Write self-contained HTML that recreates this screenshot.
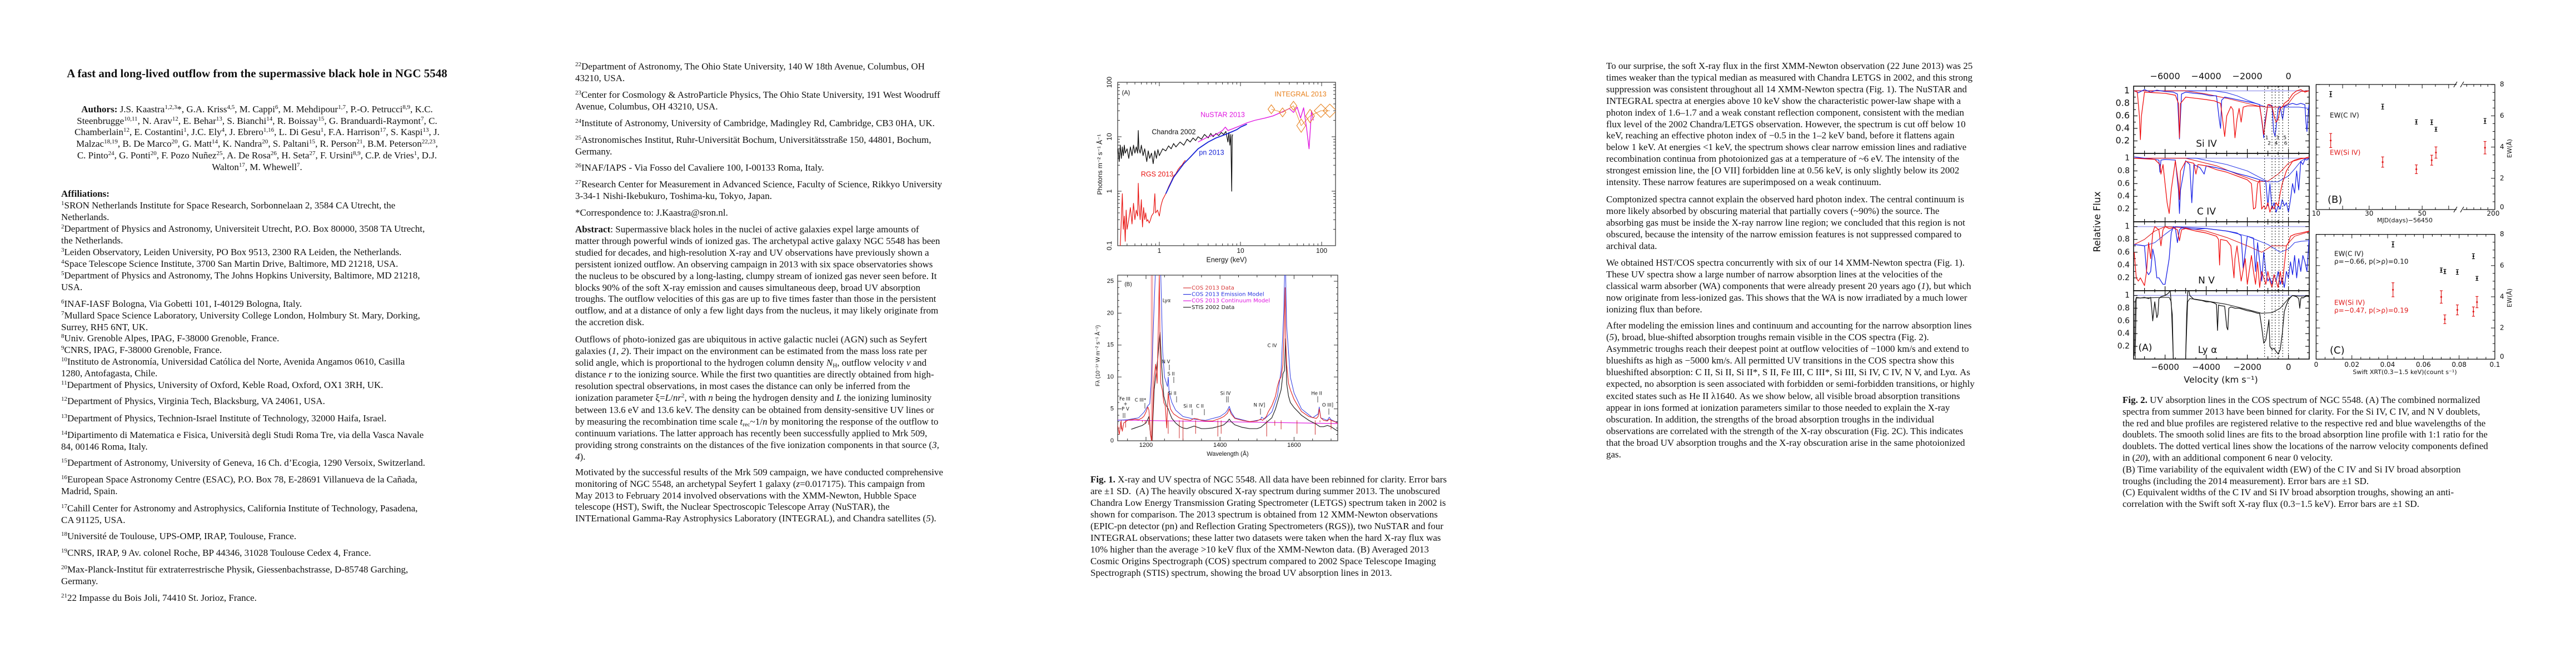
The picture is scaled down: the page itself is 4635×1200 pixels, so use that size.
<!DOCTYPE html>
<html><head><meta charset="utf-8">
<style>
html,body{margin:0;padding:0;background:#fff;}
#page{position:relative;width:4635px;height:1200px;overflow:hidden;background:#fff;font-family:"Liberation Serif",serif;color:#111;}
.t{position:absolute;white-space:nowrap;font-size:17px;line-height:21px;}
.t sup{font-size:11px;line-height:0;vertical-align:6px;}
.t sub{font-size:11px;line-height:0;vertical-align:-3px;}
svg{position:absolute;left:0;top:0;}
</style></head><body>
<div id="page">

<!-- PAGE 1 -->
<div class="t" style="left:110px;width:705px;top:119px;text-align:center;font-weight:bold;font-size:21px;line-height:26px;">A fast and long-lived outflow from the supermassive black hole in NGC 5548</div>
<div class="t" style="left:110px;width:705px;top:187px;text-align:center;line-height:20.7px;"><b>Authors:</b> J.S. Kaastra<sup>1,2,3</sup>*, G.A. Kriss<sup>4,5</sup>, M. Cappi<sup>6</sup>, M. Mehdipour<sup>1,7</sup>, P.-O. Petrucci<sup>8,9</sup>, K.C.<br>Steenbrugge<sup>10,11</sup>, N. Arav<sup>12</sup>, E. Behar<sup>13</sup>, S. Bianchi<sup>14</sup>, R. Boissay<sup>15</sup>, G. Branduardi-Raymont<sup>7</sup>, C.<br>Chamberlain<sup>12</sup>, E. Costantini<sup>1</sup>, J.C. Ely<sup>4</sup>, J. Ebrero<sup>1,16</sup>, L. Di Gesu<sup>1</sup>, F.A. Harrison<sup>17</sup>, S. Kaspi<sup>13</sup>, J.<br>Malzac<sup>18,19</sup>, B. De Marco<sup>20</sup>, G. Matt<sup>14</sup>, K. Nandra<sup>20</sup>, S. Paltani<sup>15</sup>, R. Person<sup>21</sup>, B.M. Peterson<sup>22,23</sup>,<br>C. Pinto<sup>24</sup>, G. Ponti<sup>20</sup>, F. Pozo Nuñez<sup>25</sup>, A. De Rosa<sup>26</sup>, H. Seta<sup>27</sup>, F. Ursini<sup>8,9</sup>, C.P. de Vries<sup>1</sup>, D.J.<br>Walton<sup>17</sup>, M. Whewell<sup>7</sup>.</div>
<div class="t" style="left:110px;top:338px;font-weight:bold;">Affiliations:</div>
<div class="t" style="left:110px;top:359px;"><sup>1</sup>SRON Netherlands Institute for Space Research, Sorbonnelaan 2, 3584 CA Utrecht, the<br>Netherlands.</div>
<div class="t" style="left:110px;top:401px;"><sup>2</sup>Department of Physics and Astronomy, Universiteit Utrecht, P.O. Box 80000, 3508 TA Utrecht,<br>the Netherlands.</div>
<div class="t" style="left:110px;top:443px;"><sup>3</sup>Leiden Observatory, Leiden University, PO Box 9513, 2300 RA Leiden, the Netherlands.</div>
<div class="t" style="left:110px;top:464px;"><sup>4</sup>Space Telescope Science Institute, 3700 San Martin Drive, Baltimore, MD 21218, USA.</div>
<div class="t" style="left:110px;top:485px;"><sup>5</sup>Department of Physics and Astronomy, The Johns Hopkins University, Baltimore, MD 21218,<br>USA.</div>
<div class="t" style="left:110px;top:536px;"><sup>6</sup>INAF-IASF Bologna, Via Gobetti 101, I-40129 Bologna, Italy.</div>
<div class="t" style="left:110px;top:557px;"><sup>7</sup>Mullard Space Science Laboratory, University College London, Holmbury St. Mary, Dorking,<br>Surrey, RH5 6NT, UK.</div>
<div class="t" style="left:110px;top:598px;"><sup>8</sup>Univ. Grenoble Alpes, IPAG, F-38000 Grenoble, France.</div>
<div class="t" style="left:110px;top:619px;"><sup>9</sup>CNRS, IPAG, F-38000 Grenoble, France.</div>
<div class="t" style="left:110px;top:640px;"><sup>10</sup>Instituto de Astronomía, Universidad Católica del Norte, Avenida Angamos 0610, Casilla<br>1280, Antofagasta, Chile.</div>
<div class="t" style="left:110px;top:682px;"><sup>11</sup>Department of Physics, University of Oxford, Keble Road, Oxford, OX1 3RH, UK.</div>
<div class="t" style="left:110px;top:711px;"><sup>12</sup>Department of Physics, Virginia Tech, Blacksburg, VA 24061, USA.</div>
<div class="t" style="left:110px;top:742px;"><sup>13</sup>Department of Physics, Technion-Israel Institute of Technology, 32000 Haifa, Israel.</div>
<div class="t" style="left:110px;top:772px;"><sup>14</sup>Dipartimento di Matematica e Fisica, Università degli Studi Roma Tre, via della Vasca Navale<br>84, 00146 Roma, Italy.</div>
<div class="t" style="left:110px;top:822px;"><sup>15</sup>Department of Astronomy, University of Geneva, 16 Ch. d’Ecogia, 1290 Versoix, Switzerland.</div>
<div class="t" style="left:110px;top:852px;"><sup>16</sup>European Space Astronomy Centre (ESAC), P.O. Box 78, E-28691 Villanueva de la Cañada,<br>Madrid, Spain.</div>
<div class="t" style="left:110px;top:904px;"><sup>17</sup>Cahill Center for Astronomy and Astrophysics, California Institute of Technology, Pasadena,<br>CA 91125, USA.</div>
<div class="t" style="left:110px;top:954px;"><sup>18</sup>Université de Toulouse, UPS-OMP, IRAP, Toulouse, France.</div>
<div class="t" style="left:110px;top:984px;"><sup>19</sup>CNRS, IRAP, 9 Av. colonel Roche, BP 44346, 31028 Toulouse Cedex 4, France.</div>
<div class="t" style="left:110px;top:1014px;"><sup>20</sup>Max-Planck-Institut für extraterrestrische Physik, Giessenbachstrasse, D-85748 Garching,<br>Germany.</div>
<div class="t" style="left:110px;top:1065px;"><sup>21</sup>22 Impasse du Bois Joli, 74410 St. Jorioz, France.</div>

<!-- PAGE 2 -->
<div class="t" style="left:1035px;top:109px;"><sup>22</sup>Department of Astronomy, The Ohio State University, 140 W 18th Avenue, Columbus, OH<br>43210, USA.</div>
<div class="t" style="left:1035px;top:160px;"><sup>23</sup>Center for Cosmology &amp; AstroParticle Physics, The Ohio State University, 191 West Woodruff<br>Avenue, Columbus, OH 43210, USA.</div>
<div class="t" style="left:1035px;top:211px;"><sup>24</sup>Institute of Astronomy, University of Cambridge, Madingley Rd, Cambridge, CB3 0HA, UK.</div>
<div class="t" style="left:1035px;top:241px;"><sup>25</sup>Astronomisches Institut, Ruhr-Universität Bochum, Universitätsstraße 150, 44801, Bochum,<br>Germany.</div>
<div class="t" style="left:1035px;top:291px;"><sup>26</sup>INAF/IAPS - Via Fosso del Cavaliere 100, I-00133 Roma, Italy.</div>
<div class="t" style="left:1035px;top:321px;"><sup>27</sup>Research Center for Measurement in Advanced Science, Faculty of Science, Rikkyo University<br>3-34-1 Nishi-Ikebukuro, Toshima-ku, Tokyo, Japan.</div>
<div class="t" style="left:1035px;top:372px;">*Correspondence to: J.Kaastra@sron.nl.</div>
<div class="t" style="left:1035px;top:403px;line-height:20.9px;"><b>Abstract</b>: Supermassive black holes in the nuclei of active galaxies expel large amounts of<br>matter through powerful winds of ionized gas. The archetypal active galaxy NGC 5548 has been<br>studied for decades, and high-resolution X-ray and UV observations have previously shown a<br>persistent ionized outflow. An observing campaign in 2013 with six space observatories shows<br>the nucleus to be obscured by a long-lasting, clumpy stream of ionized gas never seen before. It<br>blocks 90% of the soft X-ray emission and causes simultaneous deep, broad UV absorption<br>troughs. The outflow velocities of this gas are up to five times faster than those in the persistent<br>outflow, and at a distance of only a few light days from the nucleus, it may likely originate from<br>the accretion disk.</div>
<div class="t" style="left:1035px;top:600px;line-height:21.1px;">Outflows of photo-ionized gas are ubiquitous in active galactic nuclei (AGN) such as Seyfert<br>galaxies (<i>1, 2</i>). Their impact on the environment can be estimated from the mass loss rate per<br>solid angle, which is proportional to the hydrogen column density <i>N</i><sub>H</sub>, outflow velocity <i>v</i> and<br>distance <i>r</i> to the ionizing source. While the first two quantities are directly obtained from high-<br>resolution spectral observations, in most cases the distance can only be inferred from the<br>ionization parameter ξ=<i>L</i>/<i>nr</i><sup>2</sup>, with <i>n</i> being the hydrogen density and <i>L</i> the ionizing luminosity<br>between 13.6 eV and 13.6 keV. The density can be obtained from density-sensitive UV lines or<br>by measuring the recombination time scale <i>t</i><sub>rec</sub>~1/<i>n</i> by monitoring the response of the outflow to<br>continuum variations. The latter approach has recently been successfully applied to Mrk 509,<br>providing strong constraints on the distances of the five ionization components in that source (<i>3,</i><br><i>4</i>).</div>
<div class="t" style="left:1035px;top:840px;line-height:20.8px;">Motivated by the successful results of the Mrk 509 campaign, we have conducted comprehensive<br>monitoring of NGC 5548, an archetypal Seyfert 1 galaxy (<i>z</i>=0.017175). This campaign from<br>May 2013 to February 2014 involved observations with the XMM-Newton, Hubble Space<br>telescope (HST), Swift, the Nuclear Spectroscopic Telescope Array (NuSTAR), the<br>INTErnational Gamma-Ray Astrophysics Laboratory (INTEGRAL), and Chandra satellites (<i>5</i>).</div>
<div class="t" style="left:1962px;top:852px;line-height:21px;"><b>Fig. 1.</b> X-ray and UV spectra of NGC 5548. All data have been rebinned for clarity. Error bars<br>are ±1 SD.&nbsp; (A) The heavily obscured X-ray spectrum during summer 2013. The unobscured<br>Chandra Low Energy Transmission Grating Spectrometer (LETGS) spectrum taken in 2002 is<br>shown for comparison. The 2013 spectrum is obtained from 12 XMM-Newton observations<br>(EPIC-pn detector (pn) and Reflection Grating Spectrometers (RGS)), two NuSTAR and four<br>INTEGRAL observations; these latter two datasets were taken when the hard X-ray flux was<br>10% higher than the average &gt;10 keV flux of the XMM-Newton data. (B) Averaged 2013<br>Cosmic Origins Spectrograph (COS) spectrum compared to 2002 Space Telescope Imaging<br>Spectrograph (STIS) spectrum, showing the broad UV absorption lines in 2013.</div>

<!-- PAGE 3 -->
<div class="t" style="left:2890px;top:109px;line-height:20.9px;">To our surprise, the soft X-ray flux in the first XMM-Newton observation (22 June 2013) was 25<br>times weaker than the typical median as measured with Chandra LETGS in 2002, and this strong<br>suppression was consistent throughout all 14 XMM-Newton spectra (Fig. 1). The NuSTAR and<br>INTEGRAL spectra at energies above 10 keV show the characteristic power-law shape with a<br>photon index of 1.6–1.7 and a weak constant reflection component, consistent with the median<br>flux level of the 2002 Chandra/LETGS observation. However, the spectrum is cut off below 10<br>keV, reaching an effective photon index of −0.5 in the 1–2 keV band, before it flattens again<br>below 1 keV. At energies &lt;1 keV, the spectrum shows clear narrow emission lines and radiative<br>recombination continua from photoionized gas at a temperature of ~6 eV. The intensity of the<br>strongest emission line, the [O VII] forbidden line at 0.56 keV, is only slightly below its 2002<br>intensity. These narrow features are superimposed on a weak continuum.</div>
<div class="t" style="left:2890px;top:348px;line-height:21px;">Comptonized spectra cannot explain the observed hard photon index. The central continuum is<br>more likely absorbed by obscuring material that partially covers (~90%) the source. The<br>absorbing gas must be inside the X-ray narrow line region; we concluded that this region is not<br>obscured, because the intensity of the narrow emission features is not suppressed compared to<br>archival data.</div>
<div class="t" style="left:2890px;top:462px;line-height:21px;">We obtained HST/COS spectra concurrently with six of our 14 XMM-Newton spectra (Fig. 1).<br>These UV spectra show a large number of narrow absorption lines at the velocities of the<br>classical warm absorber (WA) components that were already present 20 years ago (<i>1</i>), but which<br>now originate from less-ionized gas. This shows that the WA is now irradiated by a much lower<br>ionizing flux than before.</div>
<div class="t" style="left:2890px;top:575px;line-height:21.1px;">After modeling the emission lines and continuum and accounting for the narrow absorption lines<br>(<i>5</i>), broad, blue-shifted absorption troughs remain visible in the COS spectra (Fig. 2).<br>Asymmetric troughs reach their deepest point at outflow velocities of −1000 km/s and extend to<br>blueshifts as high as −5000 km/s. All permitted UV transitions in the COS spectra show this<br>blueshifted absorption: C II, Si II, Si II*, S II, Fe III, C III*, Si III, Si IV, C IV, N V, and Lyα. As<br>expected, no absorption is seen associated with forbidden or semi-forbidden transitions, or highly<br>excited states such as He II λ1640. As we show below, all visible broad absorption transitions<br>appear in ions formed at ionization parameters similar to those needed to explain the X-ray<br>obscuration. In addition, the strengths of the broad absorption troughs in the individual<br>observations are correlated with the strength of the X-ray obscuration (Fig. 2C). This indicates<br>that the broad UV absorption troughs and the X-ray obscuration arise in the same photoionized<br>gas.</div>

<!-- PAGE 4 caption -->
<div class="t" style="left:3819px;top:710px;line-height:20.8px;"><b>Fig. 2.</b> UV absorption lines in the COS spectrum of NGC 5548. (A) The combined normalized<br>spectra from summer 2013 have been binned for clarity. For the Si IV, C IV, and N V doublets,<br>the red and blue profiles are registered relative to the respective red and blue wavelengths of the<br>doublets. The smooth solid lines are fits to the broad absorption line profile with 1:1 ratio for the<br>doublets. The dotted vertical lines show the locations of the narrow velocity components defined<br>in (<i>20</i>), with an additional component 6 near 0 velocity.<br>(B) Time variability of the equivalent width (EW) of the C IV and Si IV broad absorption<br>troughs (including the 2014 measurement). Error bars are ±1 SD.<br>(C) Equivalent widths of the C IV and Si IV broad absorption troughs, showing an anti-<br>correlation with the Swift soft X-ray flux (0.3−1.5 keV). Error bars are ±1 SD.</div>

<svg id="fig" width="4635" height="1200" viewBox="0 0 4635 1200">
<defs>
<clipPath id="clipA"><rect x="2011" y="148" width="392" height="294"/></clipPath>
<clipPath id="clipB"><rect x="2011" y="495" width="396" height="298"/></clipPath>
<clipPath id="clipS"><rect x="3839" y="155" width="316" height="121"/></clipPath>
<clipPath id="clipC"><rect x="3839" y="276" width="316" height="123"/></clipPath>
<clipPath id="clipN"><rect x="3839" y="399" width="316" height="124"/></clipPath>
<clipPath id="clipL"><rect x="3839" y="523" width="316" height="123"/></clipPath>
</defs>
</svg>
</div>

<script>
// ===== Fig 1A data (X-ray) =====
const chandraE=[0.31,0.32,0.33,0.34,0.35,0.36,0.37,0.38,0.40,0.42,0.44,0.46,0.48,0.50,0.52,0.54,0.55,0.56,0.58,0.60,0.63,0.66,0.70,0.73,0.76,0.80,0.84,0.88,0.92,0.96,1.0,1.1,1.2,1.3,1.4,1.5,1.6,1.8,2.0,2.2,2.4,2.6,2.8,3.0,3.3,3.6,4.0,4.3,4.6,5.0,5.4,5.8,6.2,6.6,7.0,7.2,7.4,7.6,7.8,7.9,8.0];
const chandraF=[6,3.5,7,4,6.5,4.5,7,5,6,4,6.5,4.5,7,5,6.5,5,13,6,5,7,4.5,6,3.5,5.5,4,5,3.2,5.5,4,5.8,4.5,6,5.5,6.8,6,7.5,6.5,8,7,9,8,9.5,8.5,10,9,11,9.5,11.5,10,11.5,10.5,12,11,12.5,8,12,7,11,1,10,11];
const rgsE=[0.33,0.34,0.35,0.36,0.37,0.38,0.39,0.40,0.42,0.44,0.46,0.48,0.50,0.52,0.54,0.55,0.56,0.58,0.60,0.62,0.64,0.66,0.68,0.70,0.72,0.75,0.78,0.80,0.85,0.88,0.90,0.95,1.0,1.05,1.1,1.2,1.3,1.4,1.5,1.6,1.7,1.8,1.9,2.0,2.1];
const rgsF=[0.1,0.3,0.9,0.2,0.35,0.12,0.45,0.2,0.3,0.5,0.25,0.6,0.3,0.45,0.35,1.4,0.6,0.3,0.7,0.22,0.5,0.3,0.4,0.28,0.3,0.26,0.3,0.35,0.4,0.9,0.4,0.45,0.35,0.55,0.7,0.9,1.2,1.5,1.9,2.1,2.5,2.8,3.0,3.4,3.7];
const pnE=[1.2,1.5,2.0,2.4,3,4,5,6,7,8,9,10,11,12];
const pnF=[0.9,1.8,3.2,4.2,6,8,9.5,10.5,11.5,12.5,13.5,15,16,17];
const nustarE=[3,4,5,6,6.5,7,8,10,12,15,20,25,30,35,40,45,50,55,60,65,70,75,79];
const nustarF=[8,10,11,13,15,13,14,16,18,20,22,24,27,30,33,28,35,22,34,15,6,30,20];
const integralE=[24,33,45,56,72,98,126];
const integralF=[32,28,37,16,24,30,30];
const xTicksA=[1,10,100];
const yTicksA=[0.1,1,10,100];
const yTickLabelsA=['0.1','1','10','100'];

// ===== Fig 1B data (UV) =====
const cosL=[1123,1128,1132,1136,1140,1145,1150,1160,1170,1180,1190,1195,1200,1205,1208,1212,1215,1218,1222,1226,1230,1233,1236,1238,1240,1244,1248,1252,1256,1258,1260,1263,1266,1270,1275,1280,1290,1300,1310,1320,1330,1340,1350,1360,1380,1400,1410,1420,1425,1430,1440,1460,1480,1500,1510,1515,1525,1530,1540,1550,1555,1560,1565,1570,1573,1576,1578,1580,1585,1590,1600,1610,1620,1640,1660,1665,1668,1672,1680,1690,1695,1700,1710,1719];
const cosF=[2.5,1.0,3.0,1.5,2.8,3.0,3.2,3.3,3.4,3.3,3.6,3.9,4.5,5.3,4.8,1,0,4,10,12,9,17,26,14,9,8,6,5.5,2,5,7.5,6,5,4.6,4.2,4,3.6,3.4,3.3,3.2,3.5,3.4,3.2,3.1,3.1,3.5,3.8,4.3,5,4.2,3.5,3.2,3.0,3.1,3.4,3.2,3.8,4.5,5.5,7,8.5,9.5,10,12,17,24,15,12,9,8,6.5,5.5,4.6,3.8,3.5,3.8,5,3.6,3.2,3.1,3.4,3.2,3.0,2.7];
const modelL=[1123,1150,1180,1195,1205,1210,1215,1220,1225,1230,1235,1240,1245,1250,1258,1260,1262,1265,1270,1280,1300,1330,1360,1400,1415,1420,1425,1430,1440,1480,1510,1512,1520,1540,1555,1565,1572,1576,1580,1590,1600,1620,1650,1665,1668,1672,1690,1695,1700,1719];
const modelF=[3.2,3.3,3.6,4.5,5.5,5.8,10,18,26,30,30,26,14,10,8.5,10,8,7,6,4.8,3.8,3.4,3.2,3.8,4.4,4.8,5.4,4.5,3.6,3.0,3.3,3.7,3.4,4.5,7,11,20,30,18,10,7.5,5,3.6,4.2,5.3,3.6,3.2,3.7,3.3,2.8];
const stisL=[1160,1170,1180,1190,1200,1205,1208,1212,1216,1222,1228,1232,1236,1238,1242,1248,1255,1260,1265,1270,1280,1290,1300,1310,1320,1330,1340,1350,1360,1380,1400,1410,1420,1425,1430,1440,1460,1480,1500,1510,1520,1540,1550,1560,1565,1570,1574,1577,1580,1585,1590,1600,1610,1620,1640,1660,1670,1680,1690,1700,1710,1719];
const stisF=[1.8,2.0,2.2,2.4,2.8,3.4,3.8,1,0,8,11,13,16,17,12,7,5.5,5,4.2,3.5,2.8,2.3,2.0,1.9,2.1,2.3,2.1,1.9,1.9,2.0,2.3,2.5,3.0,3.4,3.0,2.5,2.1,1.9,1.9,2.1,2.6,3.6,5,7,8,10.5,11,16,9,7,6,5.2,4.6,4,3.2,2.6,2.2,2.2,2.4,2.2,1.8,1.5];
const contL=[1123,1719];
const contF=[3.25,2.7];
const absL=[1133,1145,1190,1198,1207,1260,1290,1300,1334,1394,1403,1526,1548,1565,1608,1657,1670,1700];
const absDepth=[1.0,0.8,0.2,0.4,0.5,1.5,2.0,2.2,1.5,1.8,1.5,1.8,0.6,1.0,1.5,1.6,0.2,1.0];
const xTicksB=[1200,1400,1600];
const yTicksB=[0,5,10,15,20,25];

// ===== Fig 2A velocity profiles =====
const siBlueV=[-7500,-7300,-7000,-6700,-6400,-6000,-5600,-5400,-5300,-5200,-5000,-4600,-4200,-3800,-3500,-3350,-3300,-3250,-3100,-2800,-2500,-2200,-1900,-1600,-1400,-1250,-1200,-1150,-1000,-900,-800,-720,-650,-500,-400,-320,-280,-200,0,200,400,600,800,850,900,950,1000];
const siBlueF=[1.0,0.97,1.02,0.98,1.01,0.99,0.98,0.95,0.23,0.95,0.98,0.96,0.95,0.92,0.92,0.5,0.4,0.85,0.9,0.88,0.86,0.84,0.82,0.8,0.78,0.4,0.25,0.5,0.78,0.76,0.77,0.35,0.27,0.72,0.75,0.6,0.55,0.75,0.78,0.8,0.78,0.8,0.78,0.5,0.35,0.6,0.78];
const siRedV=[-7500,-7350,-7250,-7200,-7150,-7000,-6500,-6000,-5500,-5350,-5300,-5250,-5000,-4500,-4000,-3600,-3300,-3150,-3100,-3000,-2800,-2700,-2600,-2500,-2400,-2300,-2200,-2000,-1700,-1400,-1300,-1200,-1100,-1000,-900,-800,-700,-600,-500,-400,-300,-200,0,200,400,600,800,1000];
const siRedF=[1.0,0.98,0.6,0.22,0.6,0.98,0.97,0.96,0.93,0.8,0.25,0.8,0.9,0.88,0.86,0.84,0.8,0.4,0.27,0.6,0.75,0.7,0.25,0.55,0.72,0.5,0.74,0.76,0.76,0.75,0.55,0.3,0.55,0.78,0.78,0.75,0.6,0.5,0.55,0.72,0.74,0.8,0.85,0.95,1.0,1.02,0.98,1.0];
const siBlueFitV=[-7500,-3600,-3000,-2500,-2000,-1500,-1100,0,500,1000];
const siBlueFitF=[1,1,0.97,0.92,0.85,0.79,0.74,0.74,0.74,0.72];
const siRedFitV=[-7500,-5000,-4000,-3000,-2000,-1500,-1100,-300,0,300,600,1000];
const siRedFitF=[1,1,0.95,0.88,0.8,0.76,0.74,0.74,0.8,0.93,0.99,1];

const cBlueV=[-7500,-7000,-6500,-6300,-6250,-6200,-6000,-5500,-5350,-5300,-5250,-5000,-4800,-4700,-4600,-4300,-4100,-4000,-3500,-3000,-2500,-2000,-1500,-1100,-1000,-900,-800,-700,-600,-500,-400,-300,-200,-100,0,100,200,300,400,500,600,700,800,900,1000];
const cBlueF=[1.02,1.0,0.98,0.97,0.78,0.97,0.98,0.97,0.5,0.13,0.5,0.96,0.9,0.3,0.9,0.85,0.75,0.88,0.85,0.81,0.76,0.72,0.67,0.63,0.25,0.6,0.2,0.3,0.15,0.25,0.2,0.35,0.25,0.3,0.15,0.35,0.6,0.45,0.8,0.5,0.95,0.9,0.98,0.97,1.0];
const cRedV=[-7500,-7000,-6500,-6250,-6200,-6100,-5900,-5800,-5700,-5500,-5350,-5300,-5250,-5000,-4600,-4500,-4400,-4000,-3500,-3000,-2500,-2000,-1800,-1700,-1600,-1500,-1400,-1300,-1200,-1100,-1000,-900,-800,-700,-600,-500,-400,-300,-200,-100,0,100,200,400,600,800,1000];
const cRedF=[1.0,0.99,0.98,0.9,0.75,0.9,0.3,0.13,0.5,0.96,0.6,0.35,0.8,0.95,0.92,0.75,0.9,0.88,0.82,0.78,0.72,0.66,0.6,0.2,0.22,0.6,0.65,0.2,0.25,0.2,0.3,0.15,0.25,0.2,0.3,0.25,0.45,0.6,0.7,0.8,0.85,0.9,0.95,0.97,0.99,1.0,1.02];
const cBlueFitV=[-7500,-4500,-3000,-2000,-1000,-500,0,300,600,800,1000];
const cBlueFitF=[1,1,0.9,0.8,0.63,0.63,0.72,0.83,0.95,0.99,1];
const cRedFitV=[-7500,-5000,-3500,-2500,-1500,-1000,-500,-200,0,300,600,1000];
const cRedFitF=[1,1,0.88,0.75,0.63,0.64,0.75,0.85,0.92,0.97,1,1];

const nRedV=[-7500,-7400,-7300,-7200,-7000,-6900,-6800,-6700,-6600,-6500,-6300,-6200,-6100,-6000,-5800,-5600,-5400,-5300,-5200,-5000,-4500,-4000,-3500,-3400,-3350,-3300,-3000,-2800,-2650,-2600,-2500,-2300,-2100,-2000,-1800,-1700,-1600,-1500,-1400,-1300,-1200,-1100,-1000,-900,-800,-700,-600,-500,-400,-300,-200,-100,0,100,300,600,1000];
const nRedF=[0.6,0.2,0.15,0.2,0.08,0.3,0.75,0.5,0.9,1.0,0.95,0.7,0.95,1.0,0.97,0.98,0.95,0.78,0.95,0.97,0.93,0.9,0.85,0.8,0.4,0.8,0.78,0.7,0.2,0.5,0.7,0.15,0.5,0.1,0.55,0.3,0.1,0.45,0.05,0.3,0.2,0.1,0.3,0.15,0.05,0.25,0.15,0.05,0.3,0.1,0.4,0.7,0.75,0.85,0.88,0.9,0.93];
const nBlueV=[-7500,-7200,-7000,-6900,-6800,-6700,-6600,-6500,-6400,-6300,-6200,-6100,-6000,-5900,-5800,-5700,-5600,-5500,-5400,-5300,-5200,-5000,-4500,-4000,-3500,-3000,-2500,-2300,-2200,-2000,-1700,-1600,-1500,-1300,-1200,-1100,-1000,-900,-800,-700,-600,-500,-400,-300,-200,-100,0,100,200,300,400,500,600,700,800,900,1000];
const nBlueF=[0.72,0.71,0.7,0.3,0.25,0.3,0.65,0.5,0.2,0.2,0.15,0.1,0.1,0.3,0.5,0.9,1.0,0.98,0.75,0.95,0.98,0.97,0.96,0.97,0.95,0.93,0.9,0.86,0.35,0.85,0.82,0.3,0.75,0.15,0.6,0.3,0.15,0.2,0.1,0.25,0.15,0.3,0.1,0.2,0.05,0.3,0.2,0.45,0.25,0.55,0.2,0.5,0.3,0.55,0.45,0.3,0.8];
const nRedFitV=[-7500,-7000,-6500,-6000,-5000,-4000,-3000,-2000,-1300,-1000,-800,-100,100,300,600,1000];
const nRedFitF=[0.72,0.8,0.93,1,0.98,0.93,0.83,0.7,0.6,0.66,0.7,0.7,0.78,0.85,0.88,0.92];
const nBlueFitV=[-7500,-7000,-6500,-6000,-5500,-4000,-3000,-2000,-1000,-400,0,300,600,1000];
const nBlueFitF=[0.72,0.7,0.75,0.88,1,0.97,0.93,0.85,0.72,0.6,0.65,0.75,0.77,0.78];

const lyV=[-7500,-7480,-7450,-7400,-7200,-7000,-6800,-6700,-6650,-6600,-6500,-6400,-6350,-6300,-6200,-6000,-5900,-5800,-5750,-5700,-5650,-5600,-5000,-4950,-4900,-4850,-4800,-4700,-4600,-4400,-4200,-4000,-3800,-3600,-3500,-3450,-3400,-3300,-3100,-3000,-2950,-2900,-2800,-2600,-2400,-2200,-2000,-1800,-1600,-1500,-1400,-1300,-1200,-1100,-1000,-950,-900,-800,-700,-600,-500,-400,-300,-200,-100,0,100,200,400,500,550,600,650,700,800,900,1000];
const lyF=[0.05,0.3,0.9,0.97,0.96,0.97,0.95,0.97,0.8,0.6,0.9,0.65,0.7,0.95,0.98,1.0,1.02,1.05,1.1,0.85,0.7,0,0,0.7,1.05,1.1,1.0,0.97,0.94,0.93,0.92,0.9,0.9,0.88,0.86,0.45,0.85,0.84,0.83,0.5,0.46,0.8,0.82,0.8,0.8,0.78,0.76,0.75,0.73,0.72,0.72,0.5,0.25,0.3,0.5,0.62,0.2,0.15,0.17,0.12,0.08,0.15,0.4,0.75,0.85,0.93,0.97,1.0,0.98,0.95,0.8,0.95,0.97,0.96,0.98,0.99,0.98];
const lyFitV=[-7450,-7400,-5800,-5700,-5600,-5000,-4900,-4800,-4500,-3000,-2000,-1300,-800,-400,0,200,500,1000];
const lyFitF=[0,0.96,0.97,0.9,0,0,0.9,0.95,0.94,0.86,0.78,0.72,0.73,0.8,0.95,1.0,0.99,0.99];
const componentV=[-1160,-800,-640,-460,-280,0];
const componentLabels=['1','2','3','4','5','6'];
const velTicks=[-6000,-4000,-2000,0];
const fluxTicks=[0.2,0.4,0.6,0.8,1];

// ===== Fig 2B/2C EW data =====
const mjdDays=[15.5,35.1,47.8,53.6,55.2,186];
const ewCIV=[7.39,6.59,5.61,5.59,5.14,5.67];
const ewCIVErr=[0.17,0.16,0.14,0.15,0.13,0.16];
const ewSiIV=[4.42,3.04,2.58,3.16,3.65,3.96];
const ewSiIVErr=[0.45,0.33,0.28,0.32,0.36,0.4];
const swiftRate=[0.043,0.070,0.072,0.079,0.088,0.090];
const ewCIVc=[7.36,5.71,5.62,5.59,6.60,5.18];
const ewCIVcErr=[0.17,0.14,0.14,0.15,0.16,0.13];
const ewSiIVc=[4.45,3.99,2.56,3.16,3.05,3.66];
const ewSiIVcErr=[0.45,0.4,0.28,0.32,0.3,0.36];
const ewTicks=[0,2,4,6,8];
const dayTickLabels=['10','30','50'];
const dayTickVals=[10,30,50];
const swiftTicks=[0,0.02,0.04,0.06,0.08,0.1];

const NS='http://www.w3.org/2000/svg';
const svg=document.getElementById('fig');
function mk(tag,attrs,name,parent){
  const el=document.createElementNS(NS,tag);
  for(const k in attrs) el.setAttribute(k,attrs[k]);
  
  
  (parent||svg).appendChild(el);
  return el;
}
function txt(x,y,s,size,name,opt){
  opt=opt||{};
  const el=mk('text',{x:x,y:y,'font-size':size,'font-family':opt.font||'"Liberation Sans",sans-serif',fill:opt.fill||'#111','text-anchor':opt.anchor||'middle','dominant-baseline':'middle'},name,opt.parent);
  if(opt.rot) el.setAttribute('transform','rotate('+opt.rot+' '+x+' '+y+')');
  el.textContent=s;
  return el;
}
function pline(xs,ys,fx,fy,color,w,clip,name,extra){
  let d='';
  for(let i=0;i<xs.length;i++) d+=(i?'L':'M')+fx(xs[i]).toFixed(1)+' '+fy(ys[i]).toFixed(1);
  const a={d:d,fill:'none',stroke:color,'stroke-width':w,'stroke-linejoin':'round'};
  if(clip) a['clip-path']='url(#'+clip+')';
  if(extra) for(const k in extra) a[k]=extra[k];
  return mk('path',a,name);
}
function seg(x1,y1,x2,y2,color,w,name,extra){
  const a={x1:x1,y1:y1,x2:x2,y2:y2,stroke:color,'stroke-width':w};
  if(extra) for(const k in extra) a[k]=extra[k];
  return mk('line',a,name);
}

// ----- Fig 1A -----
(function(){
  const L=2011,R=2403,T=148,B=442;
  const xA=e=>2086+146*Math.log10(e);
  const yA=f=>344-98*Math.log10(f);
  mk('rect',{x:L,y:T,width:R-L,height:B-T,fill:'none',stroke:'#333','stroke-width':1.2},'fig1a-frame');
  for(let dec=-1;dec<=2;dec++){for(let m=1;m<10;m++){const e=m*Math.pow(10,dec);const x=xA(e);if(x<L||x>R)continue;const len=m==1?7:4;
    seg(x,B,x,B-len,'#333',1,'fig1a-x-tick');seg(x,T,x,T+len,'#333',1,'fig1a-x-tick-top');}}
  for(let dec=-1;dec<=1;dec++){for(let m=1;m<10;m++){const f=m*Math.pow(10,dec);const y=yA(f);if(y<T||y>B)continue;const len=m==1?7:4;
    seg(L,y,L+len,y,'#333',1,'fig1a-y-tick');seg(R,y,R-len,y,'#333',1,'fig1a-y-tick-right');}}
  xTicksA.forEach(e=>txt(xA(e),452,String(e),12,'fig1a-x-tick-label'));
  yTicksA.forEach((f,i)=>txt(1997,yA(f),yTickLabelsA[i],12,'fig1a-y-tick-label',{rot:-90}));
  txt(2207,468,'Energy (keV)',12.5,'fig1a-x-axis-title');
  txt(1980,296,'Photons m⁻² s⁻¹ Å⁻¹',12,'fig1a-y-axis-title',{rot:-90});
  pline(chandraE,chandraF,xA,yA,'#111',1.3,'clipA','chandra-2002-series');
  pline(rgsE,rgsF,xA,yA,'#e8120f',1.2,'clipA','rgs-2013-series');
  pline(pnE,pnF,xA,yA,'#1522d6',1.8,'clipA','pn-2013-series');
  pline(nustarE,nustarF,xA,yA,'#e018e0',1.4,'clipA','nustar-2013-series');
  // INTEGRAL diamonds
  for(let i=0;i<integralE.length;i++){
    const x=xA(integralE[i]),y=yA(integralF[i]);
    const hw=i<3?6:(i<5?8:12), hh=i<3?8:12;
    mk('path',{d:`M${x-hw} ${y}L${x} ${y-hh}L${x+hw} ${y}L${x} ${y+hh}Z`,fill:'none',stroke:'#e8821e','stroke-width':1.1,'clip-path':'url(#clipA)'},'integral-2013-point');
  }
  pline(integralE,integralF,xA,yA,'#e8821e',0.9,'clipA','integral-2013-connector');
  txt(2026,167,'(A)',11,'fig1a-panel-label');
  txt(2340,170,'INTEGRAL 2013',12.5,'integral-label',{fill:'#e8821e'});
  txt(2200,207,'NuSTAR 2013',12.5,'nustar-label',{fill:'#e018e0'});
  txt(2112,238,'Chandra 2002',12.5,'chandra-label');
  txt(2180,275,'pn 2013',12.5,'pn-label',{fill:'#1522d6'});
  txt(2082,314,'RGS 2013',12.5,'rgs-label',{fill:'#e8120f'});
})();

// ----- Fig 1B -----
(function(){
  const L=2011,R=2407,T=495,B=793;
  const xB=l=>2062+(l-1200)*0.666;
  const yB=f=>793-f*11.48;
  mk('rect',{x:xB(1213),y:T,width:4,height:B-T,fill:'#f6b7b7','clip-path':'url(#clipB)'},'geocoronal-lya-band');
  mk('rect',{x:L,y:T,width:R-L,height:B-T,fill:'none',stroke:'#333','stroke-width':1.2},'fig1b-frame');
  for(let l=1150;l<=1700;l+=50){const x=xB(l);const len=(l%200==0)?7:4;seg(x,B,x,B-len,'#333',1,'fig1b-x-tick');seg(x,T,x,T+len,'#333',1,'fig1b-x-tick-top');}
  for(let f=0;f<=25;f+=1){const y=yB(f);const len=(f%5==0)?7:3;seg(L,y,L+len,y,'#333',1,'fig1b-y-tick');seg(R,y,R-len,y,'#333',1,'fig1b-y-tick-right');}
  xTicksB.forEach(l=>txt(xB(l),801,String(l),11,'fig1b-x-tick-label'));
  yTicksB.forEach(f=>txt(2004,yB(f),String(f),11,'fig1b-y-tick-label',{anchor:'end'}));
  txt(2209,817,'Wavelength (Å)',11,'fig1b-x-axis-title');
  txt(1976,640,'Fλ (10⁻¹⁷ W m⁻² s⁻¹ Å⁻¹)',10,'fig1b-y-axis-title',{rot:-90});
  pline(contL,contF,xB,yB,'#e018e0',1.2,'clipB','cos-continuum-model');
  pline(stisL,stisF,xB,yB,'#222',1.2,'clipB','stis-2002-series');
  pline(modelL,modelF,xB,yB,'#2b36e0',1,'clipB','cos-emission-model');
  pline(cosL,cosF,xB,yB,'#e02a2a',1.2,'clipB','cos-2013-series');
  for(let i=0;i<absL.length;i++){
    seg(xB(absL[i]),yB(3.2),xB(absL[i]),yB(3.2)+absDepth[i]*11.48*1.4,'#c81818',0.9,'cos-narrow-absorption-line');
  }
  // legend
  const leg=[['COS 2013 Data','#d83a3a'],['COS 2013 Emission Model','#2b36e0'],['COS 2013 Continuum Model','#e018e0'],['STIS 2002 Data','#222']];
  leg.forEach((e,i)=>{const y=518+i*11.6;seg(2129,y,2143,y,e[1],1.2,'legend-swatch');txt(2144,y,e[0],10,'legend-entry',{anchor:'start',fill:e[1],font:'"DejaVu Sans",sans-serif'});});
  txt(2030,512,'(B)',10,'fig1b-panel-label');
  const lab=[['Lyα',2099,541],['N V',2098,651],['S II',2107,673],['Si II',2109,708],['Si II',2137,731],['C II',2159,731],['Si IV',2205,708],['C IV',2289,622],['N IV]',2266,729],['He II',2369,708],['O III]',2389,729],['Fe III',2024,718],['+',2025,727],['P V',2025,736],['C III*',2052,720]];
  lab.forEach(a=>txt(a[1],a[2],a[0],8.5,'line-id-label',{font:'"DejaVu Sans",sans-serif'}));
  const mark=[[2104,656,666],[2112,678,689],[2117,713,724],[2145,736,747],[2167,736,747],[2207,713,724],[2210,713,724],[2268,735,746],[2371,713,724],[2391,735,746],[2021,743,752],[2024,743,752],[2060,725,735]];
  mark.forEach(m=>seg(m[0],m[1],m[0],m[2],'#333',0.9,'line-id-marker'));
})();

// ----- Fig 2A -----
(function(){
  const L=3839,R=4155;
  const xV=v=>4117.6+0.037*v;
  const panels=[[155,276,'clipS','si-iv'],[276,399,'clipC','c-iv'],[399,523,'clipN','n-v'],[523,646,'clipL','ly-alpha']];
  const yP=(p,f)=>p[1]-(p[1]-p[0])*f/1.075;
  const series=[
    [[siBlueFitV,siBlueFitF,'#2b3ae8'],[siRedFitV,siRedFitF,'#e01818'],[siBlueV,siBlueF,'#1a22e6'],[siRedV,siRedF,'#f01010']],
    [[cBlueFitV,cBlueFitF,'#2b3ae8'],[cRedFitV,cRedFitF,'#e01818'],[cBlueV,cBlueF,'#1a22e6'],[cRedV,cRedF,'#f01010']],
    [[nBlueFitV,nBlueFitF,'#2b3ae8'],[nRedFitV,nRedFitF,'#e01818'],[nBlueV,nBlueF,'#1a22e6'],[nRedV,nRedF,'#f01010']],
    [[lyFitV,lyFitF,'#111'],[lyV,lyF,'#111']]
  ];
  panels.forEach((p,pi)=>{
    mk('rect',{x:L,y:p[0],width:R-L,height:p[1]-p[0],fill:'none',stroke:'#111','stroke-width':1.6},'fig2a-panel-frame-'+p[3]);
    seg(L,yP(p,1),R,yP(p,1),'#a9a9f0',1.6,'unity-reference-line',{'clip-path':'url(#'+p[2]+')'});
    for(let v=-7000;v<=1000;v+=500){const x=xV(v);const len=(v%2000==0)?8:(v%1000==0?5:3);seg(x,p[0],x,p[0]+len,'#111',1.2,'fig2a-vel-tick-top');seg(x,p[1],x,p[1]-len,'#111',1.2,'fig2a-vel-tick-bottom');}
    for(let f=0.1;f<1.08;f+=0.1){const y=yP(p,f);const major=Math.round(f*10)%2==0;const len=major?7:4;seg(L,y,L+len,y,'#111',1.2,'fig2a-flux-tick');seg(R,y,R-len,y,'#111',1.2,'fig2a-flux-tick-right');}
    fluxTicks.forEach(f=>txt(3832,yP(p,f),f==1?'1':f.toFixed(1),pi==0?16:14,'fig2a-flux-tick-label',{anchor:'end',font:'"DejaVu Sans",sans-serif'}));
    series[pi].forEach((s,si)=>pline(s[0],s[1],xV,f=>yP(p,f),s[2],si<(pi==3?1:2)?1.1:1.3,p[2],'fig2a-'+p[3]+'-'+(si<(pi==3?1:2)?'fit':'data')));
  });
  componentV.forEach(v=>seg(xV(v),155,xV(v),646,'#111',1,'narrow-component-marker',{'stroke-dasharray':'2,3'}));
  componentV.forEach((v,i)=>txt(xV(v)+(i%2?-5:4),i%2?258:248,componentLabels[i],9,'component-number',{font:'"DejaVu Sans",sans-serif'}));
  velTicks.forEach(v=>txt(xV(v),138,String(v).replace('-','−'),16,'fig2a-top-vel-label',{font:'"DejaVu Sans",sans-serif'}));
  velTicks.forEach(v=>txt(xV(v),661,String(v).replace('-','−'),15,'fig2a-bottom-vel-label',{font:'"DejaVu Sans",sans-serif'}));
  txt(3996,684,'Velocity (km s⁻¹)',16,'fig2a-x-axis-title',{font:'"DejaVu Sans",sans-serif'});
  txt(3774,399,'Relative Flux',17,'fig2a-y-axis-title',{rot:-90,font:'"DejaVu Sans",sans-serif'});
  txt(3970,259,'Si IV',17,'si-iv-label',{font:'"DejaVu Sans",sans-serif'});
  txt(3970,381,'C IV',17,'c-iv-label',{font:'"DejaVu Sans",sans-serif'});
  txt(3970,505,'N V',17,'n-v-label',{font:'"DejaVu Sans",sans-serif'});
  txt(3972,630,'Ly α',17,'ly-alpha-label',{font:'"DejaVu Sans",sans-serif'});
  txt(3860,626,'(A)',17,'fig2a-panel-label',{font:'"DejaVu Sans",sans-serif'});
})();

// ----- Fig 2B and 2C -----
(function(){
  const L=4167.4,R=4489;
  const xB=d=>d<=100?4167.4+(d-10)*4.77:4489-(200-d)*1.266;
  const yB=e=>377-e*28.1;
  const xC=s=>4167.4+s*3216;
  const yC=e=>646.2-e*28.06;
  // B frame with break
  mk('path',{d:`M${4420} 152H${L}V377H${4420}M${4432} 377H${R}V152H${4432}`,fill:'none',stroke:'#111','stroke-width':1.3},'fig2b-frame');
  [4418,4430].forEach(x=>{seg(x-3,382,x+3,372,'#111',1.2,'axis-break-mark');seg(x-3,157,x+3,147,'#111',1.2,'axis-break-mark-top');});
  for(let d=10;d<=60;d+=5){const x=xB(d);const len=(d%10==0)?7:4;seg(x,377,x,377-len,'#111',1,'fig2b-x-tick');seg(x,152,x,152+len,'#111',1,'fig2b-x-tick-top');}
  [160,170,180,190].forEach(d=>{const x=xB(d);seg(x,377,x,373,'#111',1,'fig2b-x-tick');seg(x,152,x,156,'#111',1,'fig2b-x-tick-top');});
  for(let e=0;e<=8;e+=0.5){const len=(e%2==0)?7:4;seg(L,yB(e),L+len,yB(e),'#111',1,'fig2b-y-tick');seg(R,yB(e),R-len,yB(e),'#111',1,'fig2b-y-tick-right');
    seg(L,yC(e),L+len,yC(e),'#111',1,'fig2c-y-tick');seg(R,yC(e),R-len,yC(e),'#111',1,'fig2c-y-tick-right');}
  dayTickVals.forEach((d,i)=>txt(xB(d),384.5,dayTickLabels[i],12,'fig2b-x-tick-label',{font:'"DejaVu Sans",sans-serif'}));
  txt(4486,384.5,'200',12,'fig2b-x-tick-label',{font:'"DejaVu Sans",sans-serif'});
  ewTicks.forEach(e=>{txt(4498,yB(e)+(e==0?-4:0),String(e),12,'fig2b-ew-tick-label',{anchor:'start',font:'"DejaVu Sans",sans-serif'});
    txt(4498,yC(e)+(e==0?-4:0),String(e),12,'fig2c-ew-tick-label',{anchor:'start',font:'"DejaVu Sans",sans-serif'});});
  txt(4516,267,'EW(Å)',11,'fig2b-y-axis-title',{rot:-90,font:'"DejaVu Sans",sans-serif'});
  txt(4516,536,'EW(Å)',11,'fig2c-y-axis-title',{rot:-90,font:'"DejaVu Sans",sans-serif'});
  txt(4327,397,'MJD(days)−56450',11,'fig2b-x-axis-title',{font:'"DejaVu Sans",sans-serif'});
  // C frame
  mk('rect',{x:L,y:421.7,width:R-L,height:224.5,fill:'none',stroke:'#111','stroke-width':1.3},'fig2c-frame');
  for(let s=0;s<=0.1001;s+=0.005){const x=xC(s);const major=Math.round(s*1000)%20==0;const len=major?7:4;seg(x,646.2,x,646.2-len,'#111',1,'fig2c-x-tick');seg(x,421.7,x,421.7+len,'#111',1,'fig2c-x-tick-top');}
  swiftTicks.forEach(s=>txt(xC(s),656.5,String(s),12,'fig2c-x-tick-label',{font:'"DejaVu Sans",sans-serif'}));
  txt(4327,670,'Swift XRT(0.3−1.5 keV)(count s⁻¹)',11,'fig2c-x-axis-title',{font:'"DejaVu Sans",sans-serif'});
  function pts(xs,ys,es,fx,fy,color,name){
    for(let i=0;i<xs.length;i++){const x=fx(xs[i]),y=fy(ys[i]),y1=fy(ys[i]+es[i]),y2=fy(ys[i]-es[i]);
      seg(x,y1,x,y2,color,1.2,name+'-errorbar');seg(x-2.5,y1,x+2.5,y1,color,1.2,name+'-errorcap');seg(x-2.5,y2,x+2.5,y2,color,1.2,name+'-errorcap');
      mk('circle',{cx:x,cy:y,r:1.6,fill:color},name+'-point');}
  }
  pts(mjdDays,ewCIV,ewCIVErr,xB,yB,'#111','ew-civ-vs-time');
  pts(mjdDays,ewSiIV,ewSiIVErr,xB,yB,'#e01818','ew-siiv-vs-time');
  pts(swiftRate,ewCIVc,ewCIVcErr,xC,yC,'#111','ew-civ-vs-swift');
  pts(swiftRate,ewSiIVc,ewSiIVcErr,xC,yC,'#e01818','ew-siiv-vs-swift');
  txt(4192,208,'EW(C IV)',12,'fig2b-civ-label',{anchor:'start',font:'"DejaVu Sans",sans-serif'});
  txt(4192,275,'EW(Si IV)',12,'fig2b-siiv-label',{anchor:'start',fill:'#e01818',font:'"DejaVu Sans",sans-serif'});
  txt(4188,360,'(B)',18,'fig2b-panel-label',{anchor:'start',font:'"DejaVu Sans",sans-serif'});
  txt(4200,457,'EW(C IV)',12,'fig2c-civ-label',{anchor:'start',font:'"DejaVu Sans",sans-serif'});
  txt(4200,471,'ρ=−0.66, p(>ρ)=0.10',12,'fig2c-civ-correlation',{anchor:'start',font:'"DejaVu Sans",sans-serif'});
  txt(4200,545,'EW(Si IV)',12,'fig2c-siiv-label',{anchor:'start',fill:'#e01818',font:'"DejaVu Sans",sans-serif'});
  txt(4200,559,'ρ=−0.47, p(>ρ)=0.19',12,'fig2c-siiv-correlation',{anchor:'start',fill:'#e01818',font:'"DejaVu Sans",sans-serif'});
  txt(4192,631,'(C)',18,'fig2c-panel-label',{anchor:'start',font:'"DejaVu Sans",sans-serif'});
})();
</script>
</body></html>
